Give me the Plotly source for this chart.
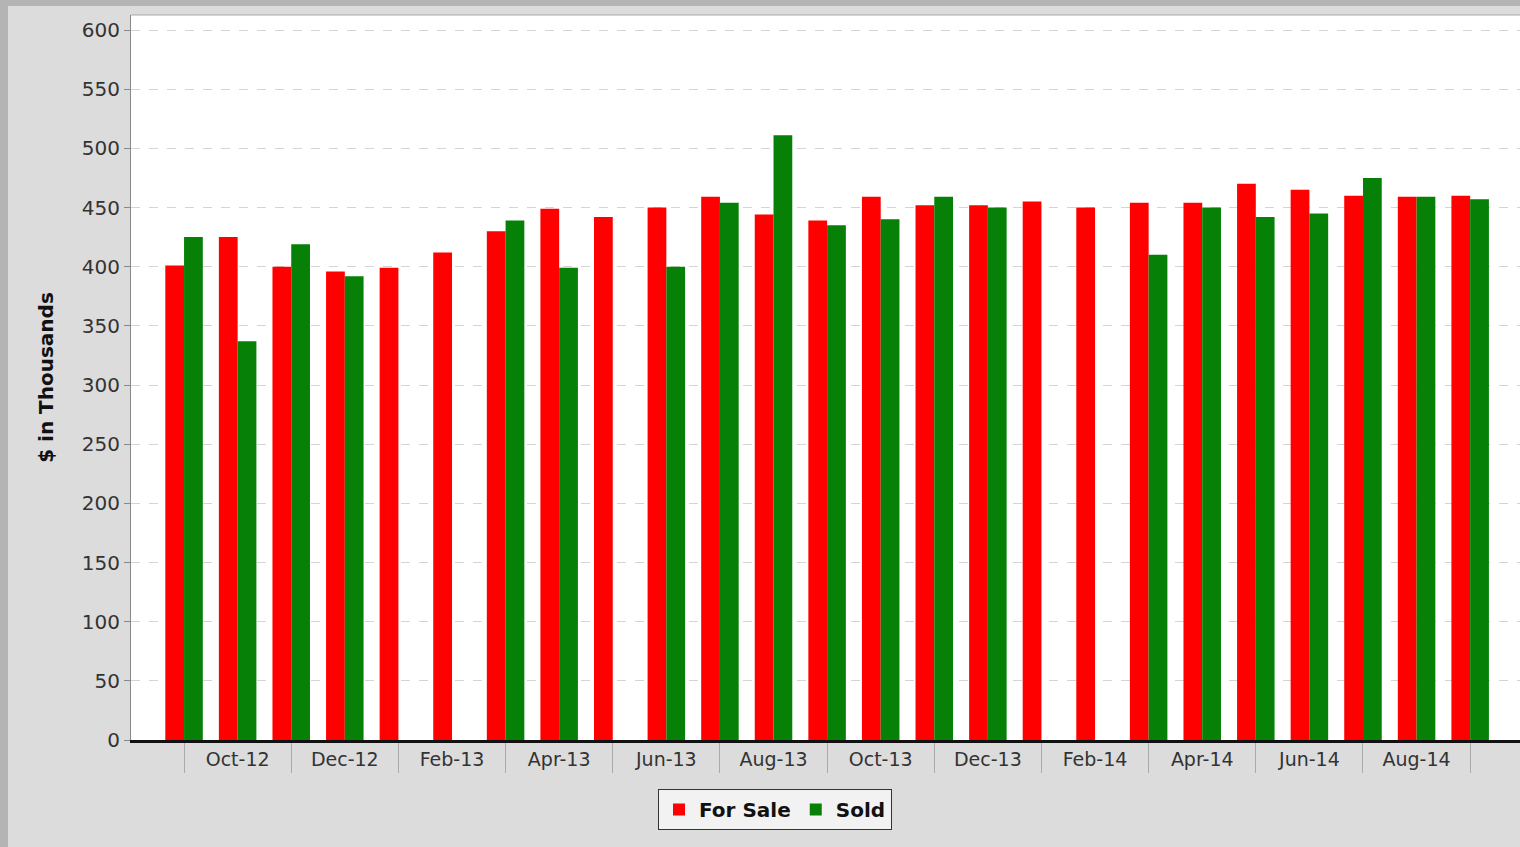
import plotly.graph_objects as go

months = ["Sep-12", "Oct-12", "Nov-12", "Dec-12", "Jan-13", "Feb-13", "Mar-13", "Apr-13",
          "May-13", "Jun-13", "Jul-13", "Aug-13", "Sep-13", "Oct-13", "Nov-13", "Dec-13",
          "Jan-14", "Feb-14", "Mar-14", "Apr-14", "May-14", "Jun-14", "Jul-14", "Aug-14", "Sep-14"]
for_sale = [401, 425, 400, 396, 399, 412, 430, 449, 442, 450, 459, 444, 439, 459, 452, 452,
            455, 450, 454, 454, 470, 465, 460, 459, 460]
sold = [425, 337, 419, 392, None, None, 439, 399, None, 400, 454, 511, 435, 440, 459, 450,
        None, None, 410, 450, 442, 445, 475, 459, 457]
tick_labels = ["Oct-12", "Dec-12", "Feb-13", "Apr-13", "Jun-13", "Aug-13", "Oct-13", "Dec-13",
               "Feb-14", "Apr-14", "Jun-14", "Aug-14"]
y_ticks = [0, 50, 100, 150, 200, 250, 300, 350, 400, 450, 500, 550, 600]

idx = list(range(len(months)))
label_pos = [months.index(m) for m in tick_labels]

fig = go.Figure()
fig.add_trace(go.Bar(x=idx, y=for_sale, name="For Sale", marker=dict(color="#ff0000", line_width=0),
                     customdata=months, hovertemplate="%{customdata}: %{y}<extra>For Sale</extra>"))
fig.add_trace(go.Bar(x=idx, y=sold, name="Sold", marker=dict(color="#068006", line_width=0),
                     customdata=months, hovertemplate="%{customdata}: %{y}<extra>Sold</extra>"))

W, H = 1520, 847
L, R, T, B = 131, 0, 15, 107
pw, ph = W - L - R, H - T - B

def px_x(p):
    return (p - L) / pw

def px_y(p):
    return (H - B - p) / ph

fig.update_layout(
    width=W, height=H,
    margin=dict(l=L, r=R, t=T, b=B),
    paper_bgcolor="#dcdcdc",
    plot_bgcolor="#ffffff",
    barmode="group",
    bargap=0.3,
    bargroupgap=0.0,
    font=dict(family="DejaVu Sans", color="#333333"),
    showlegend=True,
    legend=dict(orientation="h", x=px_x(775), xanchor="center", y=px_y(789), yanchor="top",
                bgcolor="#f2f2f2", bordercolor="#333333", borderwidth=1,
                font=dict(family="DejaVu Sans", size=20, color="#111111", weight="bold"),
                itemwidth=30, tracegroupgap=0),
    xaxis=dict(
        range=[-0.99, 24.93],
        tickmode="array", tickvals=label_pos, ticktext=tick_labels,
        ticks="", showgrid=False, zeroline=False,
        tickfont=dict(family="DejaVu Sans", size=19, color="#333333"),
        showline=True, linecolor="#111111", linewidth=3,
        minor=dict(tickmode="linear", tick0=0, dtick=2, ticks="outside", ticklen=30,
                   tickcolor="#aaaaaa", tickwidth=1, showgrid=False),
        fixedrange=True,
    ),
    yaxis=dict(
        range=[0, 612.7],
        tickmode="array", tickvals=y_ticks,
        ticks="outside", ticklen=6, tickcolor="#888888",
        tickfont=dict(family="DejaVu Sans", size=20, color="#333333"),
        showgrid=True, gridcolor="#d4d4d4", griddash="dash", gridwidth=1,
        zeroline=False,
        showline=True, linecolor="#888888", linewidth=1,
        title=dict(text="$ in Thousands", standoff=22,
                   font=dict(family="DejaVu Sans", size=20, color="#111111", weight="bold")),
        fixedrange=True,
    ),
    shapes=[
        dict(type="rect", xref="paper", yref="paper", x0=px_x(0), x1=px_x(8), y0=px_y(H), y1=px_y(0),
             fillcolor="#b4b4b4", line_width=0, layer="below"),
        dict(type="rect", xref="paper", yref="paper", x0=px_x(0), x1=px_x(W), y0=px_y(6), y1=px_y(0),
             fillcolor="#b4b4b4", line_width=0, layer="below"),
        dict(type="line", xref="paper", yref="paper", x0=0, x1=1, y0=1, y1=1,
             line=dict(color="#aaaaaa", width=1)),
    ],
)

fig.write_html("out.html", config={"displayModeBar": False},
               post_script="document.body.style.margin='0';document.body.style.overflow='hidden';")
